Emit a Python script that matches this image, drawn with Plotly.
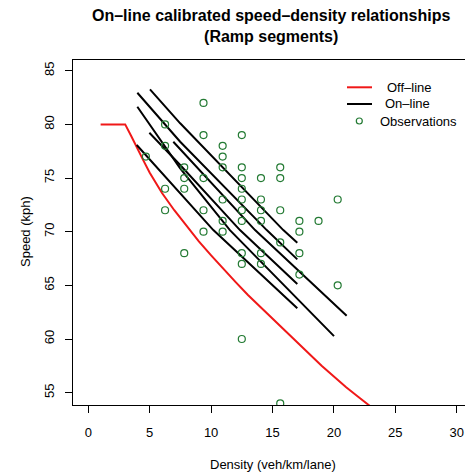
import plotly.graph_objects as go

# ---------------- data ----------------
offline_density = [1.0, 3.0, 3.5, 4.0, 4.5, 5.0, 5.5, 6.0, 7.0, 8.0, 9.0, 10.0, 11.0, 12.0, 13.0,
                   14.0, 15.0, 16.0, 17.0, 18.0, 19.0, 20.0, 21.0, 22.0, 23.0, 24.0]
offline_speed = [80.0, 80.0, 78.9, 77.7, 76.6, 75.5, 74.5, 73.6, 72.0, 70.5, 69.1, 67.8, 66.5, 65.3, 64.1,
                 63.0, 61.9, 60.8, 59.7, 58.6, 57.5, 56.5, 55.5, 54.6, 53.7, 52.8]

online_lines = {
    "seg1": ([5.02, 7.48, 15.88, 17.02], [83.27, 80.10, 70.15, 68.97]),
    "seg2": ([3.99, 7.48, 14.53, 17.02], [82.95, 78.38, 70.15, 67.42]),
    "seg3": ([6.92, 13.58, 21.04], [78.38, 70.15, 62.17]),
    "seg4": ([4.97, 7.48, 12.35, 17.02], [79.22, 76.21, 70.15, 65.12]),
    "seg5": ([3.99, 7.48, 11.53, 20.01], [81.64, 75.90, 70.15, 60.27]),
    "seg6": ([3.94, 10.18, 17.02], [78.08, 70.15, 62.86]),
}

obs_density = [9.38, 6.25, 9.38, 12.5, 6.25, 10.94, 4.69, 10.94,
               7.81, 10.94, 12.5, 15.63,
               7.81, 9.38, 12.5, 14.06, 15.63,
               6.25, 7.81, 12.5,
               10.94, 12.5, 14.06, 20.31,
               6.25, 9.38, 12.5, 14.06, 15.63,
               10.94, 12.5, 14.06, 17.19, 18.75,
               9.38, 10.94, 17.19,
               15.63,
               7.81, 12.5, 14.06, 17.19,
               12.5, 14.06,
               17.19, 20.31, 12.5, 15.63]
obs_speed = [82, 80, 79, 79, 78, 78, 77, 77,
             76, 76, 76, 76,
             75, 75, 75, 75, 75,
             74, 74, 74,
             73, 73, 73, 73,
             72, 72, 72, 72, 72,
             71, 71, 71, 71, 71,
             70, 70, 70,
             69,
             68, 68, 68, 68,
             67, 67,
             66, 65, 60, 54]

x_ticks = [0, 5, 10, 15, 20, 25, 30]
y_ticks = [55, 60, 65, 70, 75, 80, 85]

legend_labels = ["Off\u2013line", "On\u2013line", "Observations"]
title_text = "<b>On\u2013line calibrated speed\u2013density relationships<br>(Ramp segments)</b>"

RED = "#f01818"
GREEN = "#237a33"
FONT = "Liberation Sans"

fig = go.Figure()
fig.add_trace(go.Scatter(x=offline_density, y=offline_speed, mode="lines",
                         line=dict(color=RED, width=2), showlegend=False))
for name, (xs, ys) in online_lines.items():
    fig.add_trace(go.Scatter(x=xs, y=ys, mode="lines",
                             line=dict(color="black", width=2), showlegend=False))
fig.add_trace(go.Scatter(x=obs_density, y=obs_speed, mode="markers",
                         marker=dict(symbol="circle-open", size=7, color=GREEN,
                                     line=dict(width=1.2, color=GREEN)),
                         showlegend=False))

# plot area in pixels
L, R_, T, B = 73, 465, 60, 405
W, H = R_ - L, B - T


def px(xp):
    return (xp - L) / W


def py(yp):
    return (B - yp) / H


shapes = []
annotations = []
# manual legend
leg_rows = [87.3, 104.0, 121.0]
shapes.append(dict(type="line", xref="paper", yref="paper", x0=px(347), x1=px(372),
                   y0=py(leg_rows[0]), y1=py(leg_rows[0]), line=dict(color=RED, width=2)))
shapes.append(dict(type="line", xref="paper", yref="paper", x0=px(347), x1=px(372),
                   y0=py(leg_rows[1]), y1=py(leg_rows[1]), line=dict(color="black", width=2)))
shapes.append(dict(type="circle", xref="paper", yref="paper", x0=px(356.3), x1=px(362.3),
                   y0=py(leg_rows[2] + 3), y1=py(leg_rows[2] - 3), line=dict(color=GREEN, width=1.2)))
for lbl, xs, yr in zip(legend_labels, [385, 383, 378], leg_rows):
    annotations.append(dict(text=lbl, xref="paper", yref="paper", x=px(xs), y=py(yr),
                            xanchor="left", yanchor="middle", showarrow=False,
                            font=dict(size=13, color="black", family=FONT)))

# title
annotations.append(dict(text=title_text, xref="paper", yref="paper", x=px(271), y=py(5),
                        xanchor="center", yanchor="top", align="center", showarrow=False,
                        font=dict(size=16, color="black", family=FONT)))
# axis titles
annotations.append(dict(text="Density (veh/km/lane)", xref="paper", yref="paper",
                        x=px(273), y=py(465), xanchor="center", yanchor="middle",
                        showarrow=False, font=dict(size=13, color="black", family=FONT)))
annotations.append(dict(text="Speed (kph)", xref="paper", yref="paper",
                        x=px(25), y=py(232), xanchor="center", yanchor="middle", textangle=-90,
                        showarrow=False, font=dict(size=13, color="black", family=FONT)))

fig.update_layout(
    width=465, height=474,
    margin=dict(l=L, r=0, t=T, b=474 - B, pad=0),
    paper_bgcolor="white", plot_bgcolor="white",
    font=dict(family=FONT, size=13, color="black"),
    shapes=shapes, annotations=annotations,
    showlegend=False,
)
fig.update_xaxes(range=[-1.25, 30.68], tickvals=x_ticks, ticks="outside", ticklen=7,
                 tickcolor="black", showline=True, linecolor="black", linewidth=1,
                 mirror=True, showgrid=False, zeroline=False,
                 ticklabelstandoff=8, tickfont=dict(size=13, family=FONT))
fig.update_yaxes(range=[53.85, 86.0], tickvals=y_ticks, ticks="outside", ticklen=7,
                 tickcolor="black", showline=True, linecolor="black", linewidth=1,
                 mirror=True, showgrid=False, zeroline=False, tickangle=-90,
                 ticklabelstandoff=6, tickfont=dict(size=13, family=FONT))

fig.write_html("out.html")
